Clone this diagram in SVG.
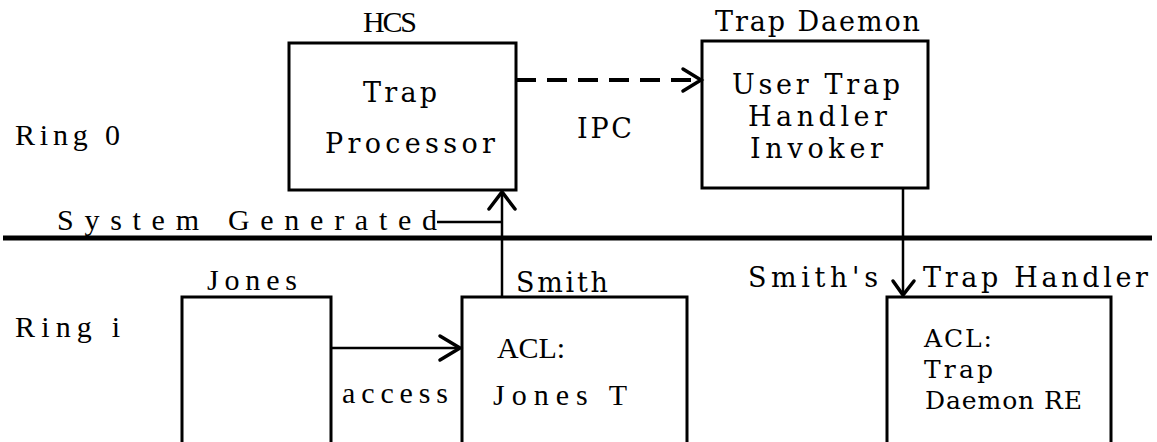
<svg xmlns="http://www.w3.org/2000/svg" width="1157" height="442" viewBox="0 0 1157 442">
<style>
.box{fill:none;stroke:#000;stroke-width:3}
.ln{fill:none;stroke:#000;stroke-width:2.5}
.head{fill:none;stroke:#000;stroke-width:3.5;stroke-linecap:round;stroke-linejoin:miter}
.t{font-family:"Liberation Serif","Times New Roman",serif;font-size:30px;fill:#000}
.w{font-family:"DejaVu Serif","Liberation Serif",serif;font-size:27px;fill:#000}
.s{font-size:25px}
</style>
<rect width="1157" height="442" fill="#fff"/>
<g id="rings">
<line x1="3" y1="238" x2="1152" y2="238" stroke="#000" stroke-width="5"/>
<text class="t" x="15" y="145" textLength="105" lengthAdjust="spacing">Ring 0</text>
<text class="t" x="15" y="337" textLength="105" lengthAdjust="spacing">Ring i</text>
</g>
<g id="hcs">
<text class="t" x="363" y="32" textLength="54" lengthAdjust="spacing">HCS</text>
<rect class="box" x="289" y="43" width="227" height="147"/>
<text class="w" x="363" y="102" textLength="74" lengthAdjust="spacing">Trap</text>
<text class="w" x="325" y="153" textLength="170" lengthAdjust="spacing">Processor</text>
</g>
<g id="trap-daemon">
<text class="w" x="715" y="31" textLength="205" lengthAdjust="spacing">Trap Daemon</text>
<rect class="box" x="702" y="41" width="226" height="147"/>
<text class="w" x="732" y="94" textLength="168" lengthAdjust="spacing">User Trap</text>
<text class="w" x="748" y="126" textLength="139" lengthAdjust="spacing">Handler</text>
<text class="w" x="750" y="158" textLength="133" lengthAdjust="spacing">Invoker</text>
</g>
<g id="jones">
<text class="t" x="207" y="290" textLength="90" lengthAdjust="spacing">Jones</text>
<path class="box" d="M182,450 V297 H331 V450"/>
</g>
<g id="smith">
<text class="w" x="516" y="292" textLength="92" lengthAdjust="spacing">Smith</text>
<path class="box" d="M462,450 V297 H687 V450"/>
<text class="t" x="497" y="358" textLength="68" lengthAdjust="spacing">ACL:</text>
<text class="t" x="493" y="405" textLength="134" lengthAdjust="spacing">Jones T</text>
</g>
<g id="trap-handler">
<text class="w" x="748" y="287" textLength="130" lengthAdjust="spacing">Smith's</text>
<text class="w" x="923" y="287" textLength="225" lengthAdjust="spacing">Trap Handler</text>
<path class="box" d="M887,450 V297 H1111 V450"/>
<text class="w s" x="924" y="347" textLength="68" lengthAdjust="spacing">ACL:</text>
<text class="w s" x="924" y="378" textLength="69" lengthAdjust="spacing">Trap</text>
<text class="w s" x="925" y="409" textLength="157" lengthAdjust="spacing">Daemon RE</text>
</g>
<g id="connectors">
<line x1="516" y1="80" x2="700" y2="80" stroke="#000" stroke-width="4" stroke-dasharray="20,11"/>
<path class="head" d="M683,69 L701,80 L683,91"/>
<text class="w" x="577" y="138" textLength="55" lengthAdjust="spacing">IPC</text>
<line class="ln" x1="502" y1="297" x2="502" y2="192"/>
<path class="head" d="M489,209 L502,192 L515,209"/>
<line class="ln" x1="437" y1="222" x2="502" y2="222"/>
<text class="t" x="57" y="230" textLength="380" lengthAdjust="spacing">System Generated</text>
<line class="ln" x1="903" y1="188" x2="903" y2="295"/>
<path class="head" d="M893,281 L903,295 L914,281"/>
<line class="ln" x1="331" y1="348" x2="460" y2="348"/>
<path class="head" d="M440,336 L460,348 L440,360"/>
<text class="t" x="342" y="403" textLength="106" lengthAdjust="spacing">access</text>
</g>
</svg>
